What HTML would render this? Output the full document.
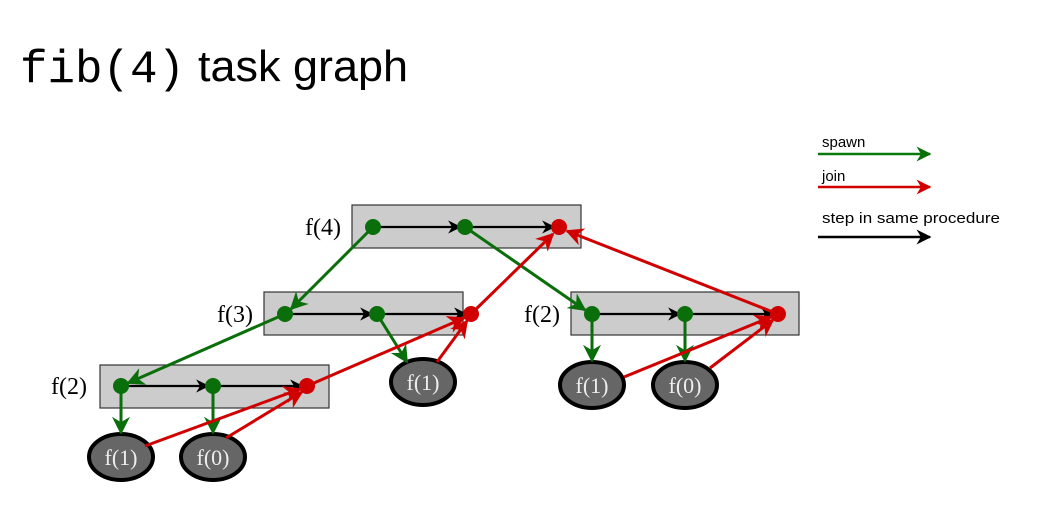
<!DOCTYPE html>
<html><head><style>
body{margin:0;background:#fff;width:1064px;height:505px;overflow:hidden}
</style></head><body>
<svg width="1064" height="505" xmlns="http://www.w3.org/2000/svg">
<defs>
<marker id="g" viewBox="0 0 10 10" refX="9" refY="5" markerWidth="6" markerHeight="6" orient="auto"><path d="M0,0 L10,5 L0,10 L3,5z" fill="#0a6e0a"/></marker>
<marker id="r" viewBox="0 0 10 10" refX="9" refY="5" markerWidth="6" markerHeight="6" orient="auto"><path d="M0,0 L10,5 L0,10 L3,5z" fill="#d00000"/></marker>
<marker id="k" viewBox="0 0 10 10" refX="9" refY="5" markerWidth="6" markerHeight="6" orient="auto"><path d="M0,0 L10,5 L0,10 L3,5z" fill="#000"/></marker>
</defs>
<text x="20" y="82" font-family="Liberation Mono, monospace" font-size="46" textLength="165" lengthAdjust="spacingAndGlyphs">fib(4)</text>
<text x="198" y="81" font-family="Liberation Sans, sans-serif" font-size="44" textLength="210" lengthAdjust="spacingAndGlyphs">task graph</text>
<g font-family="Liberation Sans, sans-serif" font-size="15">
<text x="822" y="147">spawn</text>
<line x1="818" y1="154" x2="930" y2="154" stroke="#0a7a0a" stroke-width="2.5" marker-end="url(#g)"/>
<text x="822" y="181">join</text>
<line x1="818" y1="187" x2="930" y2="187" stroke="#d00000" stroke-width="2.5" marker-end="url(#r)"/>
<text x="822" y="223" textLength="178" lengthAdjust="spacingAndGlyphs">step in same procedure</text>
<line x1="818" y1="237" x2="930" y2="237" stroke="#000" stroke-width="2.5" marker-end="url(#k)"/>
</g>
<g fill="#cccccc" stroke="#333" stroke-width="1.2">
<rect x="352" y="205" width="229" height="43"/>
<rect x="264" y="292" width="199" height="43"/>
<rect x="100" y="365" width="229" height="43"/>
<rect x="571" y="292" width="228" height="43"/>
</g>
<g font-family="Liberation Serif, serif" font-size="24">
<text x="305" y="235">f(4)</text>
<text x="217" y="322">f(3)</text>
<text x="51" y="394">f(2)</text>
<text x="524" y="322">f(2)</text>
</g>
<g stroke="#000" stroke-width="2.2">
<line x1="373" y1="227" x2="460" y2="227" marker-end="url(#k)"/>
<line x1="465" y1="227" x2="554" y2="227" marker-end="url(#k)"/>
<line x1="285" y1="314" x2="372" y2="314" marker-end="url(#k)"/>
<line x1="377" y1="314" x2="466" y2="314" marker-end="url(#k)"/>
<line x1="121" y1="386" x2="208" y2="386" marker-end="url(#k)"/>
<line x1="213" y1="386" x2="302" y2="386" marker-end="url(#k)"/>
<line x1="592" y1="314" x2="680" y2="314" marker-end="url(#k)"/>
<line x1="685" y1="314" x2="773" y2="314" marker-end="url(#k)"/>
</g>
<g fill="#666" stroke="#000" stroke-width="4">
<ellipse cx="121" cy="457" rx="32" ry="23"/>
<ellipse cx="213" cy="457" rx="32" ry="23"/>
<ellipse cx="423" cy="382" rx="32" ry="23"/>
<ellipse cx="592" cy="385" rx="32" ry="23"/>
<ellipse cx="685" cy="385" rx="32" ry="23"/>
</g>
<g font-family="Liberation Serif, serif" font-size="22" fill="#eee" text-anchor="middle">
<text x="121" y="465">f(1)</text>
<text x="213" y="465">f(0)</text>
<text x="423" y="390">f(1)</text>
<text x="592" y="393">f(1)</text>
<text x="685" y="393">f(0)</text>
</g>
<g stroke="#0a6e0a" stroke-width="3" fill="none">
<line x1="373" y1="227" x2="291" y2="309" marker-end="url(#g)"/>
<line x1="465" y1="227" x2="585" y2="310" marker-end="url(#g)"/>
<line x1="285" y1="314" x2="128" y2="383" marker-end="url(#g)"/>
<line x1="377" y1="314" x2="407" y2="362" marker-end="url(#g)"/>
<line x1="121" y1="386" x2="121" y2="433" marker-end="url(#g)"/>
<line x1="213" y1="386" x2="213" y2="433" marker-end="url(#g)"/>
<line x1="592" y1="314" x2="592" y2="361" marker-end="url(#g)"/>
<line x1="685" y1="314" x2="685" y2="361" marker-end="url(#g)"/>
</g>
<g stroke="#d00000" stroke-width="3" fill="none">
<line x1="778" y1="314" x2="567" y2="231" marker-end="url(#r)"/>
<line x1="471" y1="314" x2="553" y2="234" marker-end="url(#r)"/>
<line x1="307" y1="386" x2="464" y2="318" marker-end="url(#r)"/>
<line x1="437" y1="362" x2="467" y2="321" marker-end="url(#r)"/>
<line x1="145" y1="446" x2="300" y2="389" marker-end="url(#r)"/>
<line x1="226" y1="438" x2="302" y2="392" marker-end="url(#r)"/>
<line x1="624" y1="377" x2="771" y2="317" marker-end="url(#r)"/>
<line x1="710" y1="368" x2="773" y2="320" marker-end="url(#r)"/>
</g>
<g>
<circle cx="373" cy="227" r="8" fill="#0a6e0a"/>
<circle cx="465" cy="227" r="8" fill="#0a6e0a"/>
<circle cx="559" cy="227" r="8" fill="#d00000"/>
<circle cx="285" cy="314" r="8" fill="#0a6e0a"/>
<circle cx="377" cy="314" r="8" fill="#0a6e0a"/>
<circle cx="471" cy="314" r="8" fill="#d00000"/>
<circle cx="121" cy="386" r="8" fill="#0a6e0a"/>
<circle cx="213" cy="386" r="8" fill="#0a6e0a"/>
<circle cx="307" cy="386" r="8" fill="#d00000"/>
<circle cx="592" cy="314" r="8" fill="#0a6e0a"/>
<circle cx="685" cy="314" r="8" fill="#0a6e0a"/>
<circle cx="778" cy="314" r="8" fill="#d00000"/>
</g>
</svg>
</body></html>
